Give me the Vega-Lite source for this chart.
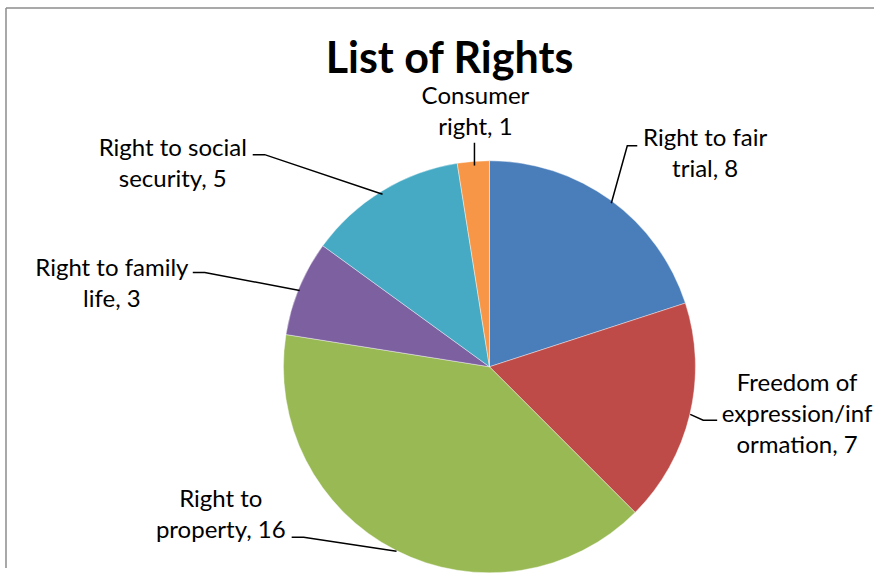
{
  "$schema": "https://vega.github.io/schema/vega-lite/v6.json",
  "width": 875,
  "height": 573,
  "padding": 0,
  "autosize": {"type": "fit", "contains": "padding"},
  "background": "white",
  "config": {"view": {"stroke": null}},
  "datasets": {
    "slices": [
      {"right": "Right to fair trial", "value": 8, "n": 1},
      {"right": "Freedom of expression/information", "value": 7, "n": 2},
      {"right": "Right to property", "value": 16, "n": 3},
      {"right": "Right to family life", "value": 3, "n": 4},
      {"right": "Right to social security", "value": 5, "n": 5},
      {"right": "Consumer right", "value": 1, "n": 6}
    ],
    "labels": [
      {"right": "Right to fair trial", "label": "Right to fair\ntrial, 8", "lx": 706, "ly": 147},
      {"right": "Freedom of expression/information", "label": "Freedom of\nexpression/inf\normation, 7", "lx": 798, "ly": 394},
      {"right": "Right to property", "label": "Right to\nproperty, 16", "lx": 221, "ly": 511},
      {"right": "Right to family life", "label": "Right to family\nlife, 3", "lx": 112, "ly": 278},
      {"right": "Right to social security", "label": "Right to social\nsecurity, 5", "lx": 173, "ly": 157},
      {"right": "Consumer right", "label": "Consumer\nright, 1", "lx": 476, "ly": 105}
    ],
    "leaders": [
      {"right": "Right to fair trial", "step": 1, "px": 638, "py": 147},
      {"right": "Right to fair trial", "step": 2, "px": 628, "py": 147},
      {"right": "Right to fair trial", "step": 3, "px": 612, "py": 205},
      {"right": "Freedom of expression/information", "step": 1, "px": 718, "py": 424},
      {"right": "Freedom of expression/information", "step": 2, "px": 704, "py": 424},
      {"right": "Freedom of expression/information", "step": 3, "px": 691, "py": 418},
      {"right": "Right to property", "step": 1, "px": 292, "py": 542},
      {"right": "Right to property", "step": 2, "px": 304, "py": 542},
      {"right": "Right to property", "step": 3, "px": 397, "py": 556},
      {"right": "Right to family life", "step": 1, "px": 193, "py": 275},
      {"right": "Right to family life", "step": 2, "px": 205, "py": 275},
      {"right": "Right to family life", "step": 3, "px": 300, "py": 293},
      {"right": "Right to social security", "step": 1, "px": 253, "py": 156},
      {"right": "Right to social security", "step": 2, "px": 265, "py": 156},
      {"right": "Right to social security", "step": 3, "px": 383, "py": 196},
      {"right": "Consumer right", "step": 1, "px": 475, "py": 144},
      {"right": "Consumer right", "step": 2, "px": 475, "py": 167}
    ],
    "frame": [
      {"x1": 6, "y1": 8, "x2": 6, "y2": 573},
      {"x1": 6, "y1": 8, "x2": 875, "y2": 8}
    ],
    "title": [{"t": "List of Rights", "tx": 450, "ty": 74}]
  },
  "layer": [
    {
      "data": {"name": "frame"},
      "mark": {"type": "rule", "color": "#8c8c8c", "strokeWidth": 1.5},
      "encoding": {
        "x": {"field": "x1", "type": "quantitative", "scale": {"domain": [0, 875]}, "axis": null},
        "y": {"field": "y1", "type": "quantitative", "scale": {"domain": [0, 573], "reverse": true}, "axis": null},
        "x2": {"field": "x2"},
        "y2": {"field": "y2"}
      }
    },
    {
      "data": {"name": "slices"},
      "mark": {"type": "arc", "outerRadius": 206, "stroke": "#ffffff", "strokeOpacity": 0.4, "strokeWidth": 1},
      "encoding": {
        "theta": {"field": "value", "type": "quantitative", "stack": true},
        "order": {"field": "n", "type": "quantitative"},
        "color": {
          "field": "right",
          "type": "nominal",
          "scale": {
            "domain": ["Right to fair trial", "Freedom of expression/information", "Right to property", "Right to family life", "Right to social security", "Consumer right"],
            "range": ["#4a7ebb", "#be4b48", "#98b954", "#7d60a0", "#46aac4", "#f79646"]
          },
          "legend": null
        },
        "x": {"datum": 490, "type": "quantitative", "scale": {"domain": [0, 875]}, "axis": null},
        "y": {"datum": 370, "type": "quantitative", "scale": {"domain": [0, 573], "reverse": true}, "axis": null}
      }
    },
    {
      "data": {"name": "leaders"},
      "mark": {"type": "line", "color": "#000000", "strokeWidth": 1.5},
      "encoding": {
        "x": {"field": "px", "type": "quantitative", "scale": {"domain": [0, 875]}, "axis": null},
        "y": {"field": "py", "type": "quantitative", "scale": {"domain": [0, 573], "reverse": true}, "axis": null},
        "detail": {"field": "right"},
        "order": {"field": "step", "type": "quantitative"}
      }
    },
    {
      "data": {"name": "labels"},
      "mark": {"type": "text", "font": "Lato", "fontSize": 24, "lineHeight": 31, "lineBreak": "\n", "align": "center", "baseline": "alphabetic", "color": "#000000"},
      "encoding": {
        "x": {"field": "lx", "type": "quantitative", "scale": {"domain": [0, 875]}, "axis": null},
        "y": {"field": "ly", "type": "quantitative", "scale": {"domain": [0, 573], "reverse": true}, "axis": null},
        "text": {"field": "label"}
      }
    },
    {
      "data": {"name": "title"},
      "mark": {"type": "text", "font": "Lato", "fontSize": 43, "fontWeight": "bold", "align": "center", "baseline": "alphabetic", "color": "#000000"},
      "encoding": {
        "x": {"field": "tx", "type": "quantitative", "scale": {"domain": [0, 875]}, "axis": null},
        "y": {"field": "ty", "type": "quantitative", "scale": {"domain": [0, 573], "reverse": true}, "axis": null},
        "text": {"field": "t"}
      }
    }
  ]
}
